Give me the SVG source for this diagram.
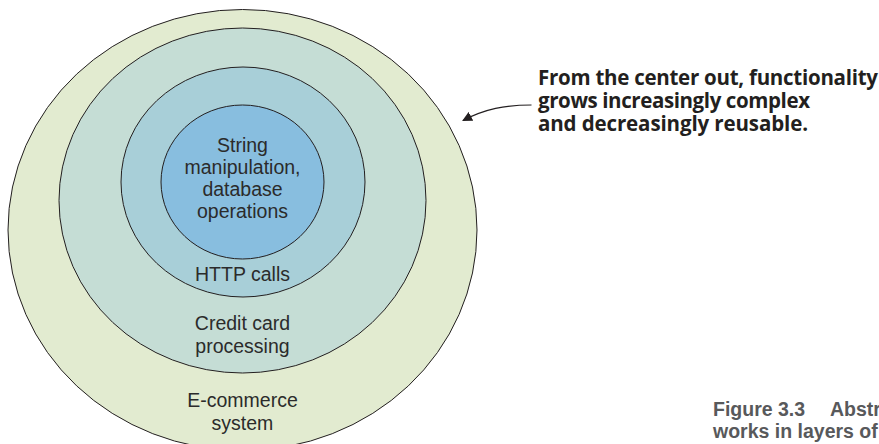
<svg xmlns="http://www.w3.org/2000/svg" width="879" height="444" viewBox="0 0 879 444">
<style>
.ring{stroke:#231f20;stroke-width:1}
.lbl{font-family:"Liberation Sans",Arial,sans-serif;font-size:19.5px;fill:#2b2b2b;text-anchor:middle}
.note{font-family:"Open Sans",Lato,sans-serif;font-weight:bold;font-size:20.5px;fill:#231f20}
.cap{font-family:"Liberation Sans",Arial,sans-serif;font-weight:bold;font-size:19.5px;fill:#58595b}
</style>
<defs>
<marker id="ah" viewBox="0 0 10 10" refX="9" refY="5" markerWidth="10" markerHeight="10" markerUnits="userSpaceOnUse" orient="auto">
<path d="M0,0 L10,5 L0,10 z" fill="#231f20"/>
</marker>
</defs>
<rect width="879" height="444" fill="#ffffff"/>
<g id="ecommerce">
<ellipse class="ring" cx="242.5" cy="230" rx="234.5" ry="220.5" fill="#e2ebd0"/>
<text class="lbl" x="242.5" y="407">E-commerce</text>
<text class="lbl" x="242.5" y="430">system</text>
</g>
<g id="creditcard">
<ellipse class="ring" cx="242.5" cy="200.5" rx="183.5" ry="172.5" fill="#c5ddd5"/>
<text class="lbl" x="242.5" y="330">Credit card</text>
<text class="lbl" x="242.5" y="353">processing</text>
</g>
<g id="http">
<ellipse class="ring" cx="243" cy="182" rx="122" ry="115" fill="#a8cfd8"/>
<text class="lbl" x="242.5" y="281">HTTP calls</text>
</g>
<g id="core">
<ellipse class="ring" cx="242.5" cy="182" rx="81.5" ry="77" fill="#88bedf"/>
<text class="lbl" x="242.5" y="152">String</text>
<text class="lbl" x="242.5" y="174">manipulation,</text>
<text class="lbl" x="242.5" y="196">database</text>
<text class="lbl" x="242.5" y="218">operations</text>
</g>
<g id="connectors">
<path d="M531.5,105 C505,105 485,109 463,120.5" fill="none" stroke="#231f20" stroke-width="1.2" marker-end="url(#ah)"/>
</g>
<g id="annotation">
<text class="note" x="538" y="85" textLength="340">From the center out, functionality</text>
<text class="note" x="538" y="108" textLength="272">grows increasingly complex</text>
<text class="note" x="538" y="131" textLength="270">and decreasingly reusable.</text>
</g>
<g id="caption">
<text class="cap" x="713" y="416">Figure 3.3<tspan x="830">Abstr</tspan></text>
<text class="cap" x="713" y="438">works in layers of</text>
</g>
</svg>
